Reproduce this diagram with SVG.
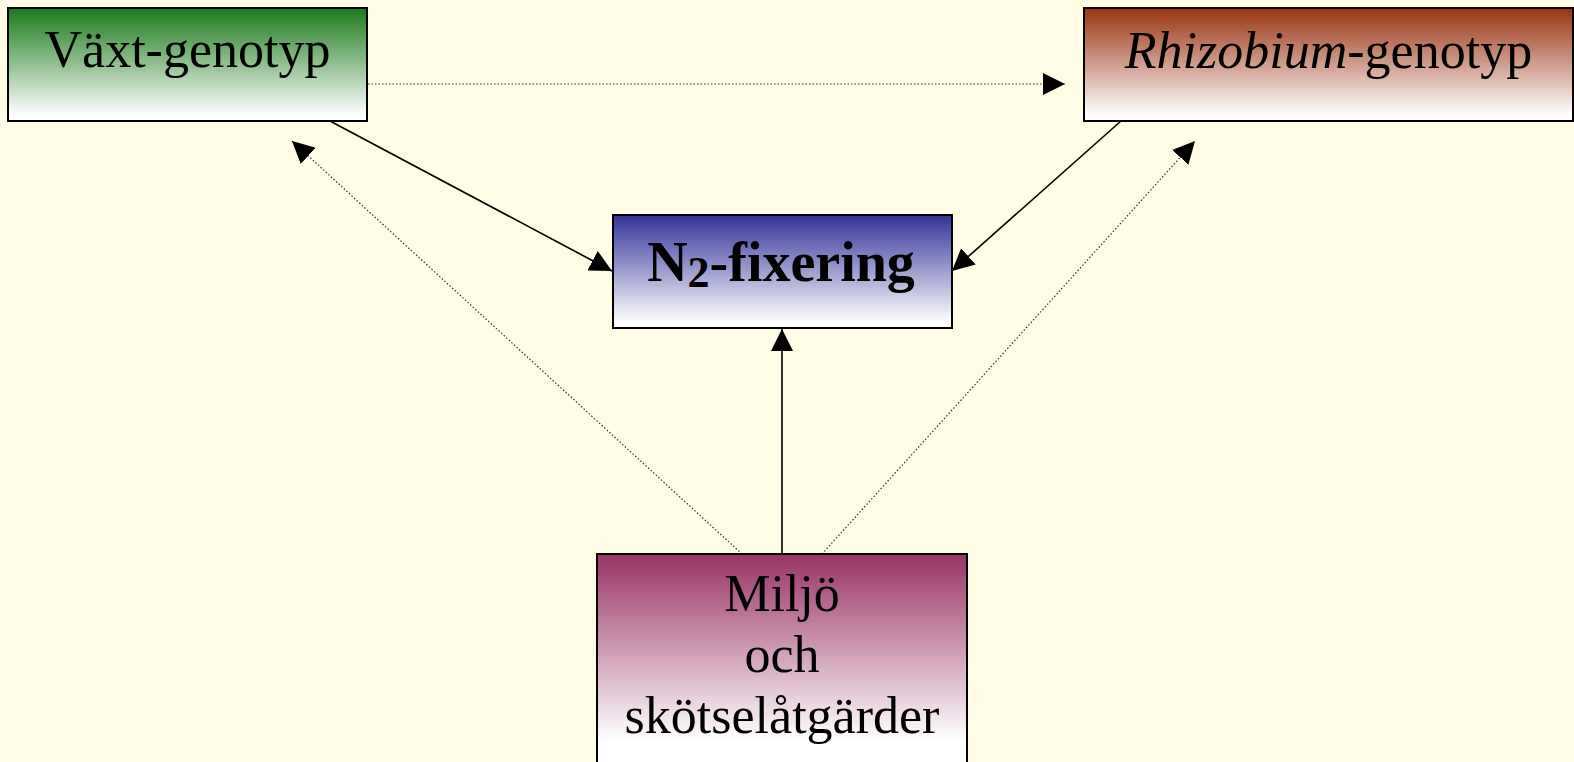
<svg xmlns="http://www.w3.org/2000/svg" width="1574" height="762" viewBox="0 0 1574 762">
<defs>
<linearGradient id="gGreen" x1="0" y1="0" x2="0" y2="1"><stop offset="0" stop-color="#1a7a1a"/><stop offset="0.95" stop-color="#ffffff"/></linearGradient>
<linearGradient id="gRed" x1="0" y1="0" x2="0" y2="1"><stop offset="0" stop-color="#993311"/><stop offset="0.95" stop-color="#ffffff"/></linearGradient>
<linearGradient id="gBlue" x1="0" y1="0" x2="0" y2="1"><stop offset="0" stop-color="#333399"/><stop offset="0.95" stop-color="#ffffff"/></linearGradient>
<linearGradient id="gPurple" x1="0" y1="0" x2="0" y2="1"><stop offset="0" stop-color="#993366"/><stop offset="0.85" stop-color="#ffffff"/></linearGradient>
<marker id="arr" markerUnits="userSpaceOnUse" markerWidth="22" markerHeight="22" viewBox="0 0 20 20" refX="20" refY="10" orient="auto">
<path d="M0,0 L20,10 L0,20 Z" fill="#000"/>
</marker>
</defs>
<style>
.box{stroke:#000;stroke-width:2}
.t{font-family:"Liberation Serif","Times New Roman",serif;font-size:52px;fill:#000;text-anchor:middle}
.bold{font-weight:bold;font-size:56px}
.sub{font-size:44px}
.solid{stroke:#000;stroke-width:1.6;fill:none}
.dot{stroke:#333;stroke-width:1.2;stroke-dasharray:1.5 2;fill:none}
</style>
<rect x="0" y="0" width="1574" height="762" fill="#fffde5"/>
<g id="connectors">
<line class="dot" x1="368" y1="84" x2="1065" y2="84" marker-end="url(#arr)"/>
<line class="solid" x1="330" y1="121" x2="612" y2="271" marker-end="url(#arr)"/>
<line class="solid" x1="1121" y1="121" x2="952" y2="271" marker-end="url(#arr)"/>
<line class="solid" x1="782" y1="554" x2="782" y2="329" marker-end="url(#arr)"/>
<line class="dot" x1="742" y1="554" x2="292" y2="141" marker-end="url(#arr)"/>
<line class="dot" x1="822" y1="554" x2="1195" y2="141" marker-end="url(#arr)"/>
</g>
<g id="node-vaxt">
<rect class="box" x="8" y="8" width="359" height="113" fill="url(#gGreen)"/>
<text class="t" x="187.5" y="67">Växt-genotyp</text>
</g>
<g id="node-rhizobium">
<rect class="box" x="1084" y="8" width="489" height="113" fill="url(#gRed)"/>
<text class="t" x="1328.5" y="68"><tspan font-style="italic">Rhizobium</tspan>-genotyp</text>
</g>
<g id="node-n2">
<rect class="box" x="613" y="215" width="339" height="113" fill="url(#gBlue)"/>
<text class="t bold" x="781" y="281">N<tspan class="sub" dy="6">2</tspan><tspan dy="-6">-fixering</tspan></text>
</g>
<g id="node-miljo">
<rect class="box" x="597" y="554" width="370" height="220" fill="url(#gPurple)"/>
<text class="t" x="782" y="611">Miljö</text>
<text class="t" x="782" y="672">och</text>
<text class="t" x="782" y="733">skötselåtgärder</text>
</g>
</svg>
